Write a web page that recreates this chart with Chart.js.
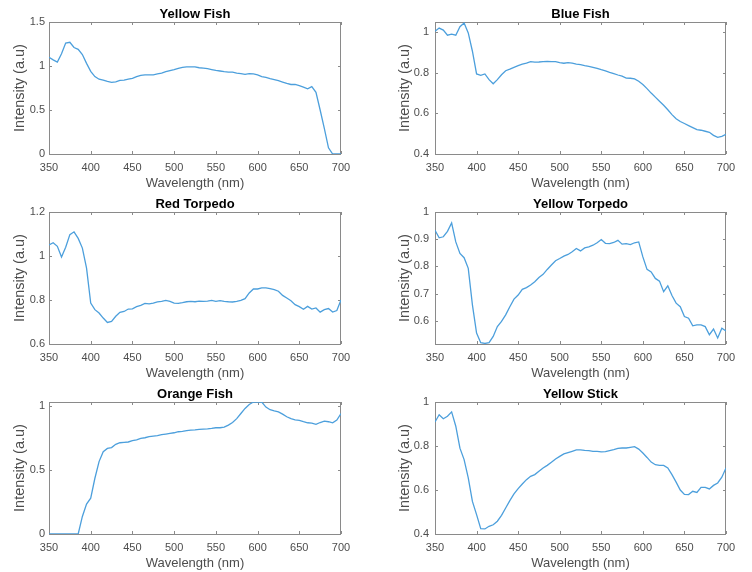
<!DOCTYPE html>
<html>
<head>
<meta charset="utf-8">
<script src="https://cdn.jsdelivr.net/npm/chart.js@4.4.1/dist/chart.umd.min.js"></script>
<style>
    body { margin: 0; background: #ffffff; }
    #wrap { position: relative; width: 752px; height: 572px; }
    canvas { position: absolute; }
</style>
</head>
<body>
<div id="wrap">
    <canvas id="c0" width="376" height="190" style="left:0px;top:0px"></canvas>
    <canvas id="c1" width="376" height="190" style="left:376px;top:0px"></canvas>
    <canvas id="c2" width="376" height="190" style="left:0px;top:190px"></canvas>
    <canvas id="c3" width="376" height="190" style="left:376px;top:190px"></canvas>
    <canvas id="c4" width="376" height="190" style="left:0px;top:380px"></canvas>
    <canvas id="c5" width="376" height="190" style="left:376px;top:380px"></canvas>
</div>
<script>
// ======================================
// Data
// ======================================

const wavelengths = [
    350, 355, 360, 365, 370, 375, 380, 385, 390, 395,
    400, 405, 410, 415, 420, 425, 430, 435, 440, 445,
    450, 455, 460, 465, 470, 475, 480, 485, 490, 495,
    500, 505, 510, 515, 520, 525, 530, 535, 540, 545,
    550, 555, 560, 565, 570, 575, 580, 585, 590, 595,
    600, 605, 610, 615, 620, 625, 630, 635, 640, 645,
    650, 655, 660, 665, 670, 675, 680, 685, 690, 695,
    700
];

const yellowFish = [
    1.10, 1.07, 1.045, 1.14, 1.26, 1.27, 1.21, 1.19, 1.13, 1.03,
    0.94, 0.88, 0.85, 0.84, 0.826, 0.814, 0.82, 0.837, 0.84, 0.85,
    0.86, 0.88, 0.894, 0.90, 0.90, 0.90, 0.91, 0.92, 0.935, 0.947,
    0.958, 0.973, 0.985, 0.99, 0.99, 0.99, 0.98, 0.977, 0.97, 0.96,
    0.95, 0.943, 0.935, 0.93, 0.93, 0.92, 0.913, 0.905, 0.913, 0.91,
    0.90, 0.88, 0.87, 0.856, 0.845, 0.833, 0.818, 0.803, 0.79, 0.79,
    0.777, 0.76, 0.74, 0.765, 0.70, 0.50, 0.29, 0.07, 0, 0,
    0
];

const blueFish = [
    1.004, 1.02, 1.01, 0.985, 0.99, 0.985, 1.027, 1.045, 0.996, 0.906,
    0.794, 0.787, 0.794, 0.766, 0.746, 0.766, 0.79, 0.81, 0.818, 0.827,
    0.835, 0.842, 0.848, 0.855, 0.852, 0.853, 0.855, 0.856, 0.855, 0.855,
    0.85, 0.847, 0.85, 0.847, 0.843, 0.84, 0.835, 0.832, 0.827, 0.822,
    0.815, 0.809, 0.802, 0.796, 0.789, 0.783, 0.774, 0.773, 0.77, 0.758,
    0.742, 0.722, 0.70, 0.68, 0.66, 0.64, 0.618, 0.594, 0.574, 0.56,
    0.55, 0.54, 0.53, 0.52, 0.517, 0.512, 0.507, 0.492, 0.482, 0.487,
    0.497
];

const redTorpedo = [
    1.05, 1.06, 1.044, 0.995, 1.04, 1.097, 1.11, 1.08, 1.036, 0.945,
    0.786, 0.756, 0.741, 0.718, 0.698, 0.703, 0.726, 0.744, 0.748, 0.759,
    0.76, 0.77, 0.776, 0.785, 0.782, 0.786, 0.791, 0.794, 0.798, 0.794,
    0.786, 0.785, 0.788, 0.792, 0.794, 0.792, 0.795, 0.794, 0.795, 0.798,
    0.794, 0.797, 0.794, 0.792, 0.791, 0.794, 0.798, 0.806, 0.832, 0.85,
    0.85, 0.855, 0.855, 0.852, 0.847, 0.84, 0.821, 0.809, 0.797, 0.779,
    0.77, 0.758, 0.771, 0.759, 0.764, 0.745, 0.756, 0.761, 0.745, 0.752,
    0.80
];

const yellowTorpedo = [
    0.933, 0.905, 0.909, 0.929, 0.96, 0.89, 0.848, 0.832, 0.793, 0.659,
    0.555, 0.52, 0.517, 0.52, 0.543, 0.579, 0.598, 0.622, 0.652, 0.68,
    0.695, 0.716, 0.722, 0.732, 0.744, 0.759, 0.771, 0.789, 0.805, 0.821,
    0.829, 0.838, 0.844, 0.854, 0.866, 0.857, 0.868, 0.872, 0.878, 0.887,
    0.899, 0.885, 0.884, 0.888, 0.896, 0.882, 0.884, 0.88, 0.887, 0.89,
    0.835, 0.789, 0.78, 0.756, 0.746, 0.707, 0.729, 0.693, 0.665, 0.652,
    0.616, 0.61, 0.582, 0.585, 0.585, 0.579, 0.549, 0.57, 0.537, 0.573,
    0.563
];

const orangeFish = [
    0, 0, 0, 0, 0, 0, 0, 0, 0.137, 0.233,
    0.28, 0.435, 0.565, 0.642, 0.668, 0.674, 0.70, 0.712, 0.715, 0.718,
    0.728, 0.735, 0.746, 0.751, 0.759, 0.764, 0.767, 0.775, 0.78, 0.785,
    0.79, 0.798, 0.80, 0.806, 0.811, 0.813, 0.816, 0.819, 0.821, 0.824,
    0.829, 0.829, 0.834, 0.85, 0.87, 0.90, 0.94, 0.98, 1.01, 1.03,
    1.03, 1.03, 0.99, 0.97, 0.96, 0.953, 0.935, 0.915, 0.90, 0.89,
    0.886, 0.876, 0.868, 0.865, 0.855, 0.87, 0.88, 0.876, 0.868, 0.889,
    0.94
];

const yellowStick = [
    0.909, 0.942, 0.924, 0.935, 0.955, 0.89, 0.79, 0.738, 0.655, 0.548,
    0.488, 0.424, 0.423, 0.435, 0.442, 0.458, 0.485, 0.518, 0.552, 0.582,
    0.606, 0.627, 0.647, 0.662, 0.67, 0.685, 0.70, 0.712, 0.726, 0.741,
    0.753, 0.764, 0.77, 0.776, 0.782, 0.782, 0.78, 0.779, 0.776, 0.776,
    0.773, 0.774, 0.779, 0.783, 0.789, 0.791, 0.791, 0.794, 0.797, 0.786,
    0.768, 0.748, 0.727, 0.715, 0.712, 0.712, 0.70, 0.67, 0.636, 0.60,
    0.58, 0.579, 0.594, 0.589, 0.612, 0.612, 0.605, 0.621, 0.632, 0.658,
    0.70
];

// tick labels
const xTicks = [350, 400, 450, 500, 550, 600, 650, 700];
const ticksYellowFish = [0, 0.5, 1, 1.5];
const ticksBlueFish = [0.4, 0.6, 0.8, 1];
const ticksRedTorpedo = [0.6, 0.8, 1, 1.2];
const ticksYellowTorpedo = [0.6, 0.7, 0.8, 0.9, 1];
const ticksOrangeFish = [0, 0.5, 1];
const ticksYellowStick = [0.4, 0.6, 0.8, 1];

// ======================================
// Style
// ======================================

const fontFamily = "'Liberation Sans', Arial, Helvetica, sans-serif";
const textColor = "#4d4d4d";
const axisColor = "#8a8a8a";
const lineColor = "#4c9fdc";

// ======================================
// Box + inward ticks (MATLAB look)
// ======================================

const boxPlugin = {

    id: "matlabBox",

    beforeDatasetsDraw(chart) {

        const { ctx, chartArea: a } = chart;
        const xs = chart.scales.x;
        const ys = chart.scales.y;
        const len = 3;

        ctx.save();
        ctx.strokeStyle = axisColor;
        ctx.lineWidth = 1;

        ctx.strokeRect(a.left + 0.5, a.top + 0.5, a.right - a.left - 1, a.bottom - a.top);

        ctx.beginPath();

        xs.ticks.forEach(t => {
            const px = Math.round(xs.getPixelForValue(t.value)) + 0.5;
            ctx.moveTo(px, a.bottom);
            ctx.lineTo(px, a.bottom - len);
            ctx.moveTo(px, a.top);
            ctx.lineTo(px, a.top + len);
        });

        ys.ticks.forEach(t => {
            const py = Math.round(ys.getPixelForValue(t.value)) + 0.5;
            ctx.moveTo(a.left, py);
            ctx.lineTo(a.left + len, py);
            ctx.moveTo(a.right, py);
            ctx.lineTo(a.right - len, py);
        });

        ctx.stroke();
        ctx.restore();

    }

};

// ======================================
// Panels
// ======================================

const panels = [
    { id: "c0", title: "Yellow Fish", values: yellowFish, min: 0, max: 1.5, ticks: ticksYellowFish },
    { id: "c1", title: "Blue Fish", values: blueFish, min: 0.4, max: 1.05, ticks: ticksBlueFish },
    { id: "c2", title: "Red Torpedo", values: redTorpedo, min: 0.6, max: 1.2, ticks: ticksRedTorpedo },
    { id: "c3", title: "Yellow Torpedo", values: yellowTorpedo, min: 0.515, max: 1, ticks: ticksYellowTorpedo },
    { id: "c4", title: "Orange Fish", values: orangeFish, min: 0, max: 1.03, ticks: ticksOrangeFish },
    { id: "c5", title: "Yellow Stick", values: yellowStick, min: 0.4, max: 1, ticks: ticksYellowStick }
];

panels.forEach((p, i) => {

    const right = i % 2 === 1;

    new Chart(document.getElementById(p.id), {

        type: "line",

        data: {
            datasets: [{
                data: wavelengths.map((w, k) => ({ x: w, y: p.values[k] })),
                borderColor: lineColor,
                borderWidth: 1.3,
                pointRadius: 0,
                tension: 0,
                fill: false
            }]
        },

        options: {

            responsive: false,
            animation: false,
            devicePixelRatio: 1,

            layout: {
                padding: { left: 0, right: right ? 26 : 35, top: 0, bottom: 0 }
            },

            plugins: {
                legend: { display: false },
                tooltip: { enabled: false },
                title: {
                    display: true,
                    text: p.title,
                    fullSize: false,
                    color: "#000000",
                    font: { family: fontFamily, size: 13, weight: "bold", lineHeight: 1 },
                    padding: { top: 8, bottom: 1 }
                }
            },

            scales: {

                x: {
                    type: "linear",
                    min: 350,
                    max: 700,
                    grid: { display: false, drawTicks: false },
                    border: { display: false },
                    afterBuildTicks: s => { s.ticks = xTicks.map(v => ({ value: v })); },
                    afterFit: s => { s.height = 36; },
                    ticks: {
                        color: textColor,
                        font: { family: fontFamily, size: 11 },
                        padding: 7,
                        maxRotation: 0,
                        autoSkip: false,
                        callback: v => String(v)
                    },
                    title: {
                        display: true,
                        text: "Wavelength (nm)",
                        color: textColor,
                        font: { family: fontFamily, size: 13, lineHeight: 1 },
                        padding: { top: 0, bottom: 0 }
                    }
                },

                y: {
                    min: p.min,
                    max: p.max,
                    grid: { display: false, drawTicks: false },
                    border: { display: false },
                    afterBuildTicks: s => { s.ticks = p.ticks.map(v => ({ value: v })); },
                    afterFit: s => { s.width = right ? 59 : 49; },
                    ticks: {
                        color: textColor,
                        font: { family: fontFamily, size: 11 },
                        padding: right ? 6 : 4,
                        autoSkip: false,
                        callback: v => String(v)
                    },
                    title: {
                        display: true,
                        text: "Intensity (a.u)",
                        color: textColor,
                        font: { family: fontFamily, size: 14.5 },
                        padding: { top: right ? 20 : 11, bottom: 0 }
                    }
                }

            }

        },

        plugins: [boxPlugin]

    });

});
</script>
</body>
</html>
